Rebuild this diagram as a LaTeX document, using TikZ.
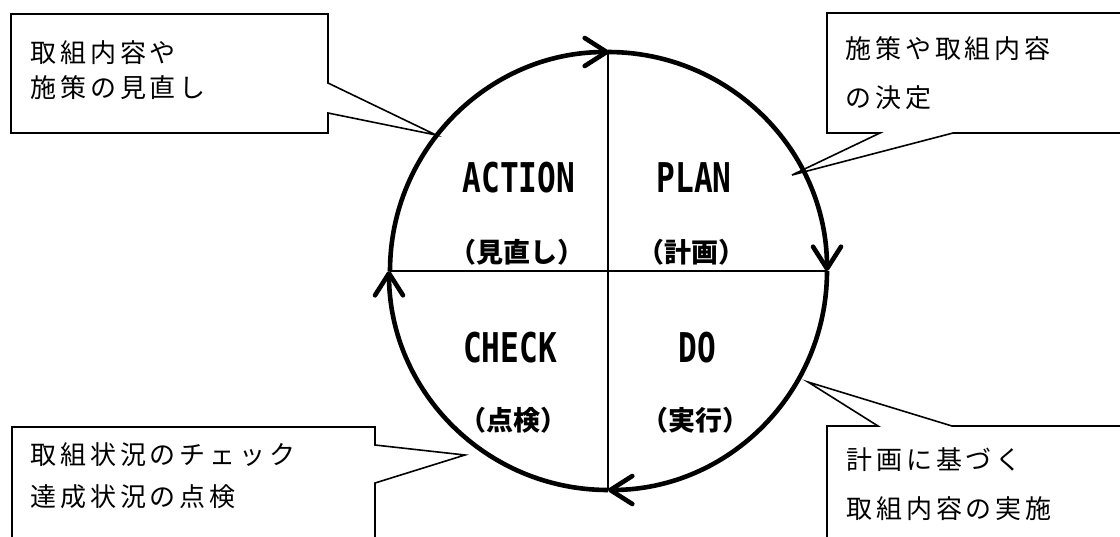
\documentclass[tikz,border=0pt]{standalone}
\usepackage{fontspec}
\usetikzlibrary{arrows.meta}
\newfontfamily\jpfont{Noto Sans CJK JP}[LetterSpace=15]
\newfontfamily\jplabel{Noto Sans CJK JP}
\newfontfamily\pdcafont{DejaVu Sans Mono}[FakeStretch=0.76]

\begin{document}
\begin{tikzpicture}[x=0.5pt,y=-0.5pt,
    cycle/.style={line width=2.3pt,-{Straight Barb[length=11pt,width=14pt,round]}},
    quarter/.style={line width=1pt},
    callout/.style={draw,line width=0.8pt,line join=miter},
    memo/.style={font=\jpfont\fontsize{13pt}{#1}\selectfont,align=left,anchor=base west,inner sep=0pt},
    pdca/.style={font=\pdcafont\bfseries\fontsize{20.5pt}{24pt}\selectfont,anchor=base,inner sep=0pt},
    kanji/.style={font=\jplabel\bfseries\fontsize{13.5pt}{16pt}\selectfont,anchor=base,inner sep=0pt}]
                \useasboundingbox (0,0) rectangle (1120,536);
                \clip (0,0) rectangle (1120,536);
                % callouts
                \coordinate (ta) at (436,135);
                \coordinate (tp) at (792,175);
                \coordinate (tc) at (465,455);
                \coordinate (td) at (808,382);
                \draw[callout] (11,14) -- (328,14) -- (328,83) -- (ta) -- (328,113) -- (328,133) -- (11,133) -- cycle;
                \draw[callout] (827,13) -- (1130,13) -- (1130,133) -- (953,133) -- (tp) -- (880,133) -- (827,133) -- cycle;
                \draw[callout] (12,427) -- (375,427) -- (375,445) -- (tc) -- (375,483) -- (375,550) -- (12,550) -- cycle;
                \draw[callout] (827,426) -- (878,426) -- (td) -- (952,426) -- (1130,426) -- (1130,550) -- (827,550) -- cycle;
                \node[memo=17.5pt] (memoa) at (30,97) {取組内容や\\施策の見直し};
                \node[memo=24.5pt] (memop) at (845,107) {施策や取組内容\\の決定};
                \node[memo=21pt] (memoc) at (30,506) {取組状況のチェック\\達成状況の点検};
                \node[memo=24.5pt] (memod) at (846,518) {計画に基づく\\取組内容の実施};
                % circle
                \coordinate (o) at (608,271);
                \coordinate (l) at (390,271);
                \coordinate (r) at (827,271);
                \coordinate (t) at (608,52);
                \coordinate (b) at (608,490);
                \draw[quarter] (l) -- (r);
                \draw[quarter] (t) -- (b);
                \draw[cycle] (l) arc[start angle=180,end angle=270,radius=219];
                \draw[cycle] (t) arc[start angle=270,end angle=360,radius=219];
                \draw[cycle] (r) arc[start angle=0,end angle=90,radius=219];
                \draw[cycle] (b) arc[start angle=90,end angle=180,radius=219];
                % labels
                \node[pdca] (act) at (519,192) {ACTION};
                \node[pdca] (plan) at (694,192) {PLAN};
                \node[pdca] (chk) at (510,362) {CHECK};
                \node[pdca] (do) at (697,362) {DO};
                \node[kanji] (acta) at (517,262) {（見直し）};
                \node[kanji] (plana) at (691,262) {（計画）};
                \node[kanji] (chka) at (513,430) {（点検）};
                \node[kanji] (doa) at (695,430) {（実行）};
\end{tikzpicture}
\end{document}
